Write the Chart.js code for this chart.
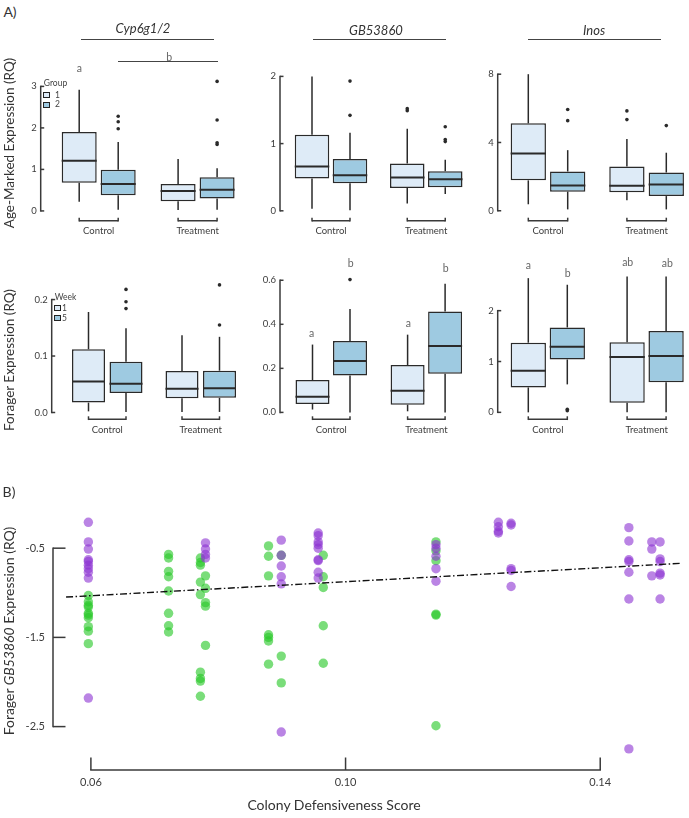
<!DOCTYPE html>
<html>
<head>
<meta charset="utf-8">
<script src="https://cdn.jsdelivr.net/npm/chart.js@4.4.1/dist/chart.umd.min.js"></script>
<style>
  html, body { margin: 0; padding: 0; background: #fff; overflow: hidden; }
  body { width: 689px; height: 818px; position: relative; font-family: Lato, "Open Sans", sans-serif; color: #333; }
  canvas { position: absolute; }
  .lab { position: absolute; transform: translate(-50%, -50%); white-space: nowrap; line-height: 1; z-index: 2; }
  .rot { transform: translate(-50%, -50%) rotate(-90deg); }
  .rule { position: absolute; height: 1.5px; background: #444; }
  .sw { position: absolute; width: 5px; height: 4px; border: 1px solid #222; z-index: 2; }
</style>
</head>
<body>
<script>
// ============================================================
// Fig: age-marked / forager expression boxplots + defensiveness scatter
// ============================================================
const groups = ['Control', 'Treatment'];

// box stats are [min, q1, median, q3, max], one row per group (Control, Treatment)
// --- Age-marked, Cyp6g1/2 (Group 1 / Group 2)
const cypAgeG1 = [[0.22, 0.68, 1.21, 1.90, 2.92], [0.02, 0.23, 0.48, 0.65, 1.25]];
const cypAgeG2 = [[0.03, 0.375, 0.65, 0.99, 1.66], [0.03, 0.30, 0.51, 0.81, 1.03]];
const cypAgeOut1 = [[], []];
const cypAgeOut2 = [[1.98, 2.15, 2.28], [1.60, 1.64, 2.19, 3.12]];
const cypAgeTicks = [0, 1, 2, 3];

// --- Age-marked, GB53860
const gbAgeG1 = [[0.03, 0.48, 0.66, 1.13, 2.0], [0.11, 0.34, 0.495, 0.705, 1.22]];
const gbAgeG2 = [[0.01, 0.41, 0.53, 0.77, 1.16], [0.25, 0.35, 0.47, 0.59, 0.76]];
const gbAgeOut1 = [[], [1.49, 1.52]];
const gbAgeOut2 = [[1.42, 1.93], [1.03, 1.06, 1.25]];
const gbAgeTicks = [0, 1, 2];

// --- Age-marked, Inos
const inosAgeG1 = [[0.38, 1.78, 3.36, 5.12, 8.0], [0.62, 1.08, 1.46, 2.59, 4.2]];
const inosAgeG2 = [[0.08, 1.12, 1.48, 2.30, 3.55], [0.08, 0.86, 1.54, 2.24, 3.4]];
const inosAgeOut1 = [[], [5.34, 5.85]];
const inosAgeOut2 = [[5.28, 5.93], [4.99]];
const inosAgeTicks = [0, 4, 8];

// --- Forager, Cyp6g1/2 (Week 1 / Week 5)
const cypForW1 = [[0.002, 0.0175, 0.055, 0.112, 0.178], [0.001, 0.025, 0.042, 0.0735, 0.137]];
const cypForW5 = [[0.001, 0.0346, 0.051, 0.090, 0.149], [0.001, 0.026, 0.043, 0.074, 0.134]];
const cypForOut1 = [[], []];
const cypForOut5 = [[0.184, 0.196, 0.218], [0.155, 0.226]];
const cypForTicks = [0, 0.1, 0.2];

// --- Forager, GB53860
const gbForW1 = [[0.013, 0.038, 0.071, 0.147, 0.308], [0.005, 0.035, 0.098, 0.215, 0.353]];
const gbForW5 = [[0.0, 0.168, 0.233, 0.324, 0.469], [0.0, 0.176, 0.302, 0.458, 0.584]];
const gbForOut1 = [[], []];
const gbForOut5 = [[0.603], []];
const gbForTicks = [0, 0.2, 0.4, 0.6];

// --- Forager, Inos
const inosForW1 = [[0.0, 0.49, 0.82, 1.37, 2.64], [0.0, 0.19, 1.09, 1.38, 2.67]];
const inosForW5 = [[0.55, 1.04, 1.29, 1.67, 2.51], [0.0, 0.59, 1.11, 1.60, 2.67]];
const inosForOut1 = [[], []];
const inosForOut5 = [[0.03, 0.06], []];
const inosForTicks = [0, 1, 2];

// --- B) scatter: colony defensiveness vs forager GB53860
const greenX = [
  0.0596, 0.0596, 0.0596, 0.0596, 0.0596, 0.0596, 0.0596, 0.0596, 0.0596, 0.0596,
  0.0722, 0.0722, 0.0722, 0.0722, 0.0722, 0.0722, 0.0722, 0.0722,
  0.0772, 0.0772, 0.0772, 0.0772, 0.0772, 0.0772, 0.0772, 0.0772, 0.0772,
  0.0780, 0.0780, 0.0780, 0.0780, 0.0780,
  0.0879, 0.0879, 0.0879, 0.0879, 0.0879, 0.0879, 0.0879,
  0.0899, 0.0899, 0.0899,
  0.0965, 0.0965, 0.0965, 0.0965, 0.0965,
  0.1142, 0.1142, 0.1142, 0.1142, 0.1142, 0.1142,
];
const greenY = [
  -1.03, -1.10, -1.14, -1.16, -1.23, -1.25, -1.28, -1.38, -1.43, -1.57,
  -0.57, -0.61, -0.76, -0.82, -0.98, -1.23, -1.37, -1.44,
  -0.61, -0.66, -0.69, -0.88, -1.02, -1.89, -1.96, -1.99, -2.16,
  -0.81, -0.95, -1.11, -1.15, -1.59,
  -0.475, -0.59, -0.81, -1.47, -1.50, -1.54, -1.80,
  -0.58, -1.71, -2.01,
  -0.58, -0.82, -0.94, -1.37, -1.79,
  -0.43, -0.53, -0.64, -1.24, -1.25, -2.49,
];
const purpleX = [
  0.0596, 0.0596, 0.0596, 0.0596, 0.0596, 0.0596, 0.0596, 0.0596, 0.0596, 0.0596,
  0.0780, 0.0780, 0.0780, 0.0780,
  0.0899, 0.0899, 0.0899, 0.0899, 0.0899, 0.0899,
  0.0957, 0.0957, 0.0957, 0.0957, 0.0957, 0.0957, 0.0957, 0.0957, 0.0957,
  0.1142, 0.1142, 0.1142, 0.1142, 0.1142,
  0.1240, 0.1240, 0.1240, 0.1240,
  0.1260, 0.1260, 0.1260, 0.1260, 0.1260,
  0.1445, 0.1445, 0.1445, 0.1445, 0.1445, 0.1445, 0.1445,
  0.1481, 0.1481, 0.1481,
  0.1494, 0.1494, 0.1494, 0.1494, 0.1494, 0.1494,
];
const purpleY = [
  -0.21, -0.43, -0.51, -0.63, -0.65, -0.69, -0.73, -0.77, -0.835, -2.18,
  -0.44, -0.51, -0.57, -0.61,
  -0.41, -0.58, -0.70, -0.82, -0.90, -2.56,
  -0.33, -0.36, -0.43, -0.46, -0.50, -0.63, -0.64, -0.77, -0.835,
  -0.46, -0.50, -0.59, -0.73, -0.87,
  -0.21, -0.26, -0.31, -0.33,
  -0.22, -0.24, -0.73, -0.75, -0.93,
  -0.27, -0.42, -0.63, -0.65, -0.77, -1.07, -2.75,
  -0.43, -0.51, -0.81,
  -0.43, -0.62, -0.65, -0.78, -0.80, -1.07,
];
const fitX = [0.0561, 0.1527];
const fitY = [-1.048, -0.67];
const scatterXTicks = [0.06, 0.10, 0.14];
const scatterYTicks = [-0.5, -1.5, -2.5];

// ------------------------------------------------------------
const INK = '#2a2a2a';
const FRAME = '#3a3a3a';
const FILL1 = '#deebf7';
const FILL2 = '#9ecae1';
Chart.defaults.font.family = 'Lato, "Open Sans", sans-serif';

function seg(ctx, x1, y1, x2, y2) {
  ctx.beginPath(); ctx.moveTo(x1, y1); ctx.lineTo(x2, y2); ctx.stroke();
}

// whiskers, medians and outlier dots on top of the floating bars
const boxPlugin = {
  id: 'boxExtras',
  afterDatasetsDraw(chart) {
    const ctx = chart.ctx, y = chart.scales.y;
    chart.data.datasets.forEach((ds, di) => {
      chart.getDatasetMeta(di).data.forEach((bar, i) => {
        const s = ds.stats[i], x = bar.x, half = bar.width / 2;
        ctx.save();
        ctx.strokeStyle = INK;
        ctx.lineWidth = 1.5;
        seg(ctx, x, y.getPixelForValue(s[0]), x, y.getPixelForValue(s[1]));
        seg(ctx, x, y.getPixelForValue(s[3]), x, y.getPixelForValue(s[4]));
        ctx.lineWidth = 2;
        const ym = y.getPixelForValue(s[2]);
        seg(ctx, x - half, ym, x + half, ym);
        ctx.fillStyle = INK;
        ds.outliers[i].forEach(v => {
          ctx.beginPath(); ctx.arc(x, y.getPixelForValue(v), 1.8, 0, Math.PI * 2); ctx.fill();
        });
        ctx.restore();
      });
    });
  },
};

// range-frame y axis and the little group brackets under each pair
const boxFrame = {
  id: 'boxFrame',
  afterDraw(chart, args, opts) {
    const ctx = chart.ctx, y = chart.scales.y, a = chart.chartArea;
    const px = y.ticks.map(t => y.getPixelForValue(t.value));
    ctx.save();
    ctx.strokeStyle = FRAME;
    ctx.lineWidth = 1.5;
    const ax = a.left - opts.gap;
    seg(ctx, ax, Math.min(...px) - 0.75, ax, Math.max(...px) + 0.75);
    px.forEach(p => seg(ctx, ax, p, ax + 3.5, p));
    const m0 = chart.getDatasetMeta(0).data, m1 = chart.getDatasetMeta(1).data;
    const by = a.bottom + opts.bracket;
    m0.forEach((b, i) => {
      const x0 = b.x, x1 = m1[i].x;
      seg(ctx, x0, by, x1, by);
      seg(ctx, x0, by + 0.75, x0, by - 3);
      seg(ctx, x1, by + 0.75, x1, by - 3);
    });
    ctx.restore();
  },
};

const rows = [
  { top: 52, plotTop: 60, plotBottom: 214, bottom: 245, bracketY: 220.7, labelY: 230.7 },
  { top: 255, plotTop: 263, plotBottom: 415, bottom: 445, bracketY: 419.3, labelY: 430 },
];

const panels = [
  { s1: cypAgeG1, s2: cypAgeG2, o1: cypAgeOut1, o2: cypAgeOut2, ticks: cypAgeTicks, dec: 0, row: 0,
    axisX: 40.7, centers: [79.2, 118.2, 178, 217.2], boxW: 35, zeroY: 210.7, tickY: 77.3 },
  { s1: gbAgeG1, s2: gbAgeG2, o1: gbAgeOut1, o2: gbAgeOut2, ticks: gbAgeTicks, dec: 0, row: 0,
    axisX: 280, centers: [312, 350, 407, 445.5], boxW: 34.5, zeroY: 210.7, tickY: 71.7 },
  { s1: inosAgeG1, s2: inosAgeG2, o1: inosAgeOut1, o2: inosAgeOut2, ticks: inosAgeTicks, dec: 0, row: 0,
    axisX: 497.7, centers: [528.3, 567.7, 626.7, 666.5], boxW: 35.3, zeroY: 210.7, tickY: 71.7 },
  { s1: cypForW1, s2: cypForW5, o1: cypForOut1, o2: cypForOut5, ticks: cypForTicks, dec: 1, row: 1,
    axisX: 51.7, centers: [88.5, 126, 182.2, 219.3], boxW: 33, zeroY: 412.3, tickY: 291 },
  { s1: gbForW1, s2: gbForW5, o1: gbForOut1, o2: gbForOut5, ticks: gbForTicks, dec: 1, row: 1,
    axisX: 280, centers: [312.5, 350, 407, 445.7], boxW: 34, zeroY: 412.3, tickY: 275.3 },
  { s1: inosForW1, s2: inosForW5, o1: inosForOut1, o2: inosForOut5, ticks: inosForTicks, dec: 0, row: 1,
    axisX: 497.7, centers: [528.3, 567.3, 626.7, 666.5], boxW: 35.3, zeroY: 412.3, tickY: 309 },
];

function makeCanvas(left, top, w, h) {
  const c = document.createElement('canvas');
  c.width = w; c.height = h;
  c.style.left = left + 'px';
  c.style.top = top + 'px';
  document.body.appendChild(c);
  return c;
}

function drawBoxPanel(p) {
  const r = rows[p.row];
  const cc = (p.centers[0] + p.centers[1]) / 2, tc = (p.centers[2] + p.centers[3]) / 2;
  const cw = tc - cc, slot = p.centers[1] - p.centers[0];
  const plotLeft = cc - cw / 2, plotRight = tc + cw / 2;
  const cLeft = Math.floor(plotLeft - 40), cTop = r.top;
  const cW = Math.ceil(plotRight + 4 - cLeft), cH = r.bottom - r.top;
  const ppu = (p.zeroY - p.tickY) / p.ticks[p.ticks.length - 1];
  const yMin = -(r.plotBottom - p.zeroY) / ppu;
  const yMax = (p.zeroY - r.plotTop) / ppu;
  const tickFont = 9.5;

  new Chart(makeCanvas(cLeft, cTop, cW, cH), {
    type: 'bar',
    data: {
      labels: groups,
      datasets: [
        { data: p.s1.map(s => [s[1], s[3]]), stats: p.s1, outliers: p.o1, backgroundColor: FILL1,
          borderColor: INK, borderWidth: 1.5, borderSkipped: false },
        { data: p.s2.map(s => [s[1], s[3]]), stats: p.s2, outliers: p.o2, backgroundColor: FILL2,
          borderColor: INK, borderWidth: 1.5, borderSkipped: false },
      ],
    },
    options: {
      responsive: false, animation: false, events: [],
      categoryPercentage: 2 * slot / cw,
      barPercentage: p.boxW / slot,
      layout: { padding: { top: r.plotTop - cTop, right: cLeft + cW - plotRight, left: 0, bottom: 0 } },
      plugins: {
        legend: { display: false }, tooltip: { enabled: false },
        boxFrame: { gap: plotLeft - p.axisX, bracket: r.bracketY - r.plotBottom },
      },
      scales: {
        x: {
          grid: { display: false, drawTicks: false }, border: { display: false },
          ticks: { font: { size: tickFont }, color: '#3c3c3c', padding: r.labelY - r.plotBottom - tickFont * 0.6 },
          afterFit: s => { s.height = cTop + cH - r.plotBottom; },
        },
        y: {
          min: yMin, max: yMax,
          grid: { display: false, drawTicks: false }, border: { display: false },
          afterBuildTicks: s => { s.ticks = p.ticks.map(v => ({ value: v })); },
          ticks: { font: { size: tickFont }, color: '#3c3c3c', padding: plotLeft - p.axisX + 4,
                   callback: v => Number(v).toFixed(p.dec) },
          afterFit: s => { s.width = plotLeft - cLeft; },
        },
      },
    },
    plugins: [boxPlugin, boxFrame],
  });
}

panels.forEach(drawBoxPanel);

// ---------------- scatter ----------------
const scatterFrame = {
  id: 'scatterFrame',
  afterDraw(chart) {
    const ctx = chart.ctx, xs = chart.scales.x, ys = chart.scales.y, a = chart.chartArea;
    ctx.save();
    ctx.strokeStyle = FRAME;
    ctx.lineWidth = 1.5;
    const yp = scatterYTicks.map(v => ys.getPixelForValue(v));
    seg(ctx, a.left, Math.min(...yp) - 0.75, a.left, Math.max(...yp) + 0.75);
    yp.forEach(p => seg(ctx, a.left, p, a.left + 12.5, p));
    const xp = scatterXTicks.map(v => xs.getPixelForValue(v));
    seg(ctx, Math.min(...xp) - 0.75, a.bottom, Math.max(...xp) + 0.75, a.bottom);
    xp.forEach(p => seg(ctx, p, a.bottom, p, a.bottom - 12.5));
    ctx.restore();
  },
};

(function drawScatter() {
  const cTop = 495, cW = 689, cH = 323;
  const plotLeft = 53, plotRight = 686, plotTop = 500, plotBottom = 770;
  // where the end ticks sit on the page
  const x06 = 91, x14 = 601.7, yA = 540, yB = 725;
  const xPer = (0.14 - 0.06) / (x14 - x06);
  const yPer = 2 / (yB - yA);
  const xMin = 0.06 - (x06 - plotLeft) * xPer, xMax = 0.06 + (plotRight - x06) * xPer;
  const yMax = -0.5 + (yA - plotTop) * yPer, yMin = -0.5 - (plotBottom - yA) * yPer;
  const tickFont = 11;

  new Chart(makeCanvas(0, cTop, cW, cH), {
    type: 'scatter',
    data: {
      datasets: [
        { data: greenX.map((x, i) => ({ x, y: greenY[i] })), backgroundColor: 'rgba(40,200,40,0.62)',
          borderWidth: 0, pointRadius: 4.7, order: 3 },
        { data: purpleX.map((x, i) => ({ x, y: purpleY[i] })), backgroundColor: 'rgba(140,50,210,0.6)',
          borderWidth: 0, pointRadius: 4.7, order: 2 },
        { type: 'line', data: fitX.map((x, i) => ({ x, y: fitY[i] })), borderColor: '#111', borderWidth: 1.4,
          borderDash: [7, 2.5, 1.5, 2.5], pointRadius: 0, fill: false, order: 1 },
      ],
    },
    options: {
      responsive: false, animation: false, events: [],
      layout: { padding: { top: plotTop - cTop, right: cW - plotRight, left: 0, bottom: 0 } },
      plugins: { legend: { display: false }, tooltip: { enabled: false } },
      scales: {
        x: {
          type: 'linear', min: xMin, max: xMax,
          grid: { display: false, drawTicks: false }, border: { display: false },
          afterBuildTicks: s => { s.ticks = scatterXTicks.map(v => ({ value: v })); },
          ticks: { font: { size: tickFont }, color: '#3c3c3c', padding: 782.7 - plotBottom - tickFont * 0.6,
                   callback: v => Number(v).toFixed(2) },
          afterFit: s => { s.height = cTop + cH - plotBottom; },
        },
        y: {
          min: yMin, max: yMax,
          grid: { display: false, drawTicks: false }, border: { display: false },
          afterBuildTicks: s => { s.ticks = scatterYTicks.map(v => ({ value: v })); },
          ticks: { font: { size: tickFont }, color: '#3c3c3c', padding: 8, callback: v => Number(v).toFixed(1) },
          afterFit: s => { s.width = plotLeft; },
        },
      },
    },
    plugins: [scatterFrame],
  });
})();

// ---------------- text & annotations ----------------
function label(html, x, y, size, extra) {
  const d = document.createElement('div');
  d.className = 'lab' + (extra && extra.rot ? ' rot' : '');
  d.innerHTML = html;
  d.style.left = x + 'px';
  d.style.top = y + 'px';
  d.style.fontSize = size + 'px';
  if (extra && extra.color) d.style.color = extra.color;
  if (extra && extra.italic) d.style.fontStyle = 'italic';
  document.body.appendChild(d);
}
function rule(x1, x2, y) {
  const d = document.createElement('div');
  d.className = 'rule';
  d.style.left = x1 + 'px';
  d.style.width = (x2 - x1) + 'px';
  d.style.top = (y - 0.75) + 'px';
  document.body.appendChild(d);
}
function swatch(x, y, fill) {
  const d = document.createElement('div');
  d.className = 'sw';
  d.style.left = x + 'px';
  d.style.top = y + 'px';
  d.style.background = fill;
  document.body.appendChild(d);
}

label('A)', 10, 12, 14);
label('B)', 9, 492, 14);

label('Cyp6g1/2', 143, 28, 13, { italic: true });
label('GB53860', 376, 30, 13, { italic: true });
label('Inos', 594, 30, 13, { italic: true });
rule(81, 214, 39.3);
rule(313, 446, 39.3);
rule(527.7, 661, 39.3);
rule(118, 218, 61.7);

const LET = '#666';
label('b', 169.3, 57, 10.5, { color: LET });
label('a', 79.3, 68, 10.5, { color: LET });
label('a', 311.7, 332.7, 10.5, { color: LET });
label('b', 350.7, 263.3, 10.5, { color: LET });
label('a', 408.3, 323.3, 10.5, { color: LET });
label('b', 445.7, 268.3, 10.5, { color: LET });
label('a', 528.3, 265, 10.5, { color: LET });
label('b', 567.7, 272.7, 10.5, { color: LET });
label('ab', 627.7, 262.3, 10.5, { color: LET });
label('ab', 667.3, 263.3, 10.5, { color: LET });

// legends
label('Group', 55.5, 83, 8.5, { color: '#444' });
swatch(42.7, 92.3, FILL1); label('1', 57.5, 94.7, 8.5, { color: '#444' });
swatch(42.7, 101.7, FILL2); label('2', 57.5, 104, 8.5, { color: '#444' });
label('Week', 65.5, 296.7, 8.5, { color: '#444' });
swatch(54, 305.3, FILL1); label('1', 64.5, 307.5, 8.5, { color: '#444' });
swatch(54, 315.3, FILL2); label('5', 64.5, 317.5, 8.5, { color: '#444' });

// axis titles
label('Age-Marked Expression (RQ)', 10, 143, 13.5, { rot: true });
label('Forager Expression (RQ)', 10, 360, 13.5, { rot: true });
label('Forager <i>GB53860</i> Expression (RQ)', 9, 631, 14, { rot: true });
label('Colony Defensiveness Score', 334, 805, 14);
</script>
</body>
</html>
